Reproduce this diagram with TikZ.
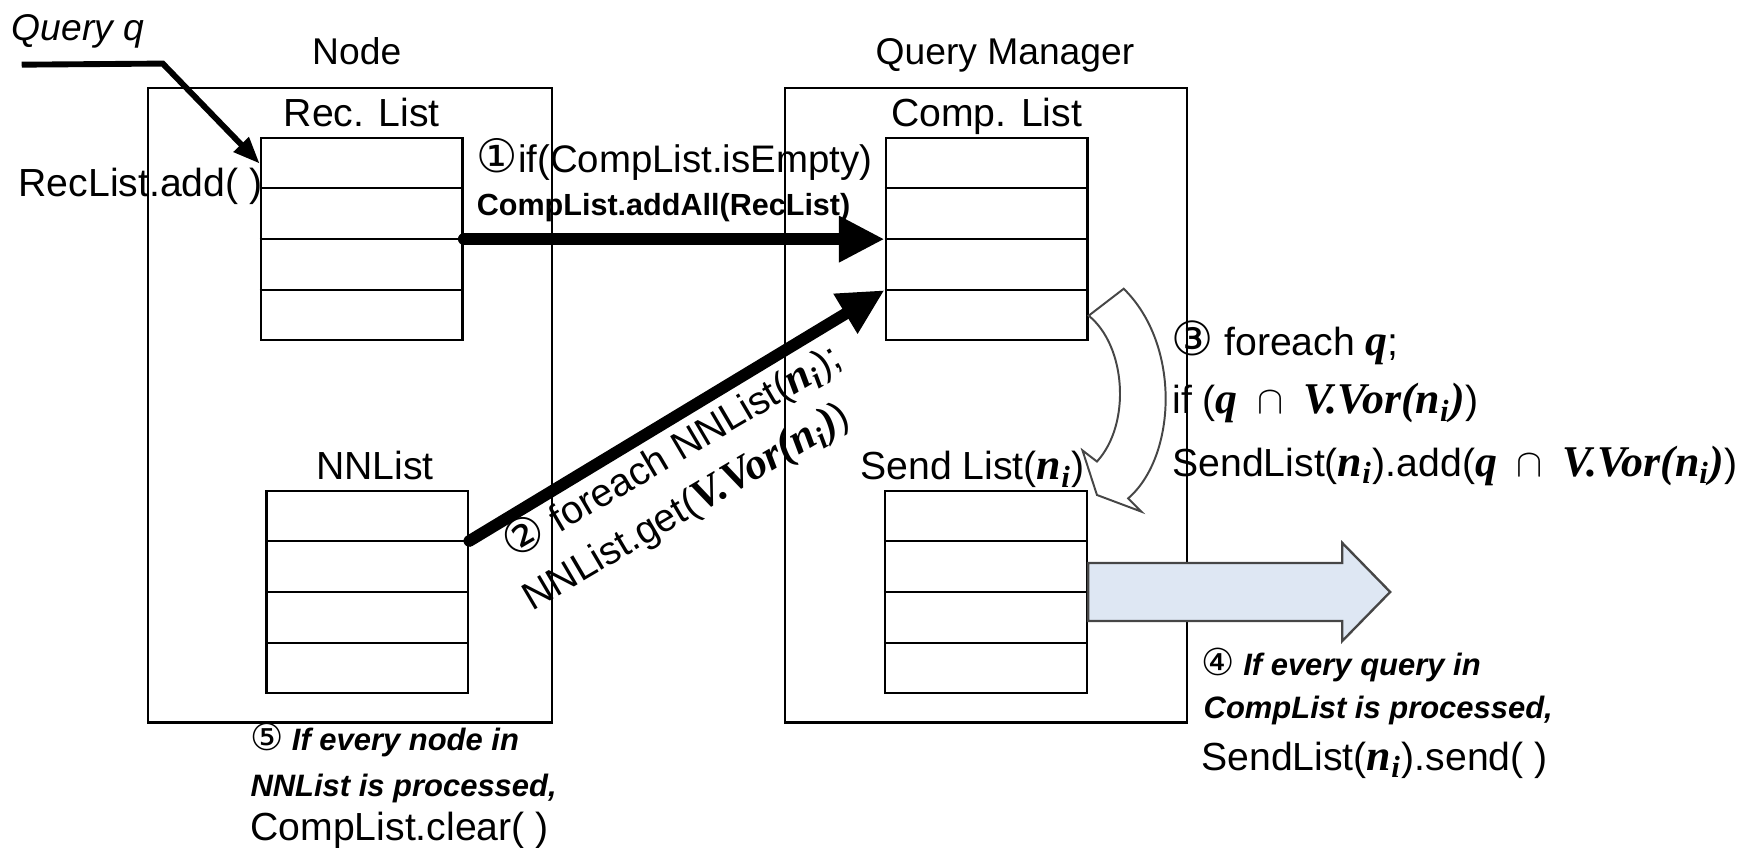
\documentclass[tikz,border=0pt]{standalone}
\usepackage{amsmath}
\usepackage{fontspec}
\setmainfont{Liberation Sans}
\newfontfamily\circfont[Scale=1.2]{DejaVu Sans}
\newfontfamily\vorfont[Scale=1.12]{Liberation Serif}
\usetikzlibrary{arrows.meta}
\usetikzlibrary{positioning}
\usetikzlibrary{calc}

\definecolor{sendblue}{RGB}{222,231,243}
\definecolor{edgegray}{RGB}{70,70,70}

\newcommand{\stepno}[1]{{\normalfont\circfont #1}}
\newcommand{\bi}[1]{{\vorfont\bfseries\itshape #1}}
\newcommand{\nsub}{\bi{n\textsubscript{i}}}
\newcommand{\vorn}{\bi{V.Vor(n\textsubscript{i})}}
\newcommand{\capq}{\bi{q}\enspace$\cap$\enspace\vorn}

\tikzset{
  outerbox/.style={draw, line width=0.6pt, inner sep=0pt, minimum height=56.9mm},
  listbox/.style={draw, line width=0.6pt, inner sep=0pt, minimum width=18.1mm, minimum height=18.1mm},
  boxlabel/.style={inner sep=1.5pt, text depth=0pt, font=\fontsize{9.5}{11}\selectfont},
  listlabel/.style={inner sep=2.5pt, text depth=0pt, font=\fontsize{10}{12}\selectfont},
  steptext/.style={inner sep=0pt, font=\fontsize{10}{12}\selectfont},
  noteit/.style={inner sep=0pt, font=\bfseries\itshape\fontsize{7.9}{9}\selectfont},
  bigarrow/.style={line width=3pt, line cap=round, -{Triangle[length=4.1mm,width=3.9mm]}},
  qarrow/.style={line width=1.5pt, -{Triangle[length=2.4mm,width=1.8mm]}},
  curvearrow/.style={draw=edgegray, fill=white, line width=0.5pt},
  sendarrow/.style={draw=edgegray, fill=sendblue, line width=0.6pt}
}

\begin{document}
\begin{tikzpicture}[x=0.1mm,y=-0.1mm]
  \useasboundingbox (0,0) rectangle (1568,760);

  % the two parts and their titles
  \node[outerbox, minimum width=36.2mm] (nodebox) at (314,363.5) {};
  \node[outerbox, minimum width=36.1mm] (qmbox) at (884.5,363.5) {};
  \node[boxlabel, above=4pt of nodebox, xshift=0.6mm] (nodelbl) {Node};
  \node[boxlabel, above=4pt of qmbox, xshift=1.7mm] (qmlbl) {Query Manager};

  % lists, four rows each
  \node[listbox] (recl) at (324.5,214.5) {};
  \node[listbox] (compl) at (885,214.5) {};
  \node[listbox] (nnl) at (329.5,531) {};
  \node[listbox] (sendl) at (884.5,531) {};
  \foreach \lst in {recl,compl,nnl,sendl}
    \foreach \k in {1,2,3}
      \draw[line width=0.6pt] ($(\lst.north west)!\k/4!(\lst.south west)$) coordinate (\lst-w\k)
        -- ($(\lst.north east)!\k/4!(\lst.south east)$) coordinate (\lst-e\k);

  \node[listlabel, above=0pt of recl] (recllbl) {Rec. List};
  \node[listlabel, above=0pt of compl] (compllbl) {Comp. List};
  \node[listlabel, above=0pt of nnl, xshift=0.7mm] (nnllbl) {NNList};
  \node[listlabel, above=0pt of sendl, xshift=-1.2mm] (sendllbl) {Send List(\nsub)};

  % incoming query
  \node[inner sep=0pt, anchor=base, font=\itshape\fontsize{9.5}{11}\selectfont] (qlbl) at (70,36) {Query q};
  \coordinate (qstart) at (19.5,58);
  \coordinate (qbend) at (146,57);
  \coordinate (qtip) at ($(recl.north west)!0.13!(recl.south west)$);
  \draw[qarrow] (qstart) -- (qbend) -- (qtip);
  \node[steptext, anchor=base west] (addlbl) at (16,176) {RecList.add( )};

  % step 1
  \draw[bigarrow] (recl-e2) -- (compl-w2);
  \node[steptext, anchor=base west, font=\fontsize{9.8}{11}\selectfont] (emptylbl) at (427,155) {\stepno{①}if(CompList.isEmpty)};
  \node[steptext, anchor=base west, font=\bfseries\fontsize{7.8}{9}\selectfont] (addalllbl) at (427,193) {CompList.addAll(RecList)};

  % step 2
  \draw[bigarrow] (nnl-e1) -- (compl-w3);
  \node[steptext, rotate=30.5, anchor=base west] (nnstep) at (460,503) {\stepno{②} foreach NNList(\nsub);};
  \node[steptext, rotate=30.5, anchor=base west] (nnget) at (477,549) {NNList.get(\vorn)};

  % step 3
  \coordinate (ctail) at ($(compl-e3)!0.5!(compl.south east)$);
  \draw[curvearrow] (ctail) .. controls (1010,310) and (1015,380) .. (984,414)
    -- (971,404) -- (984,444) -- (1024,459) -- (1012,447)
    .. controls (1055,410) and (1060,310) .. (1008,259) -- cycle;
  \node[steptext, anchor=base west] (qloop) at (1050,319) {\stepno{③} foreach \bi{q};};
  \node[steptext, anchor=base west] (qif) at (1051,371) {if (\capq)};
  \node[steptext, anchor=base west] (qadd) at (1051,427) {SendList(\nsub).add(\capq)};

  % step 4
  \coordinate (sa) at (sendl.east);
  \draw[sendarrow] (sa) ++(0,-26) -- ++(228,0) -- ++(0,-18) -- ++(43,44)
    -- ++(-43,44) -- ++(0,-18) -- ++(-228,0) -- cycle;
  \node[noteit, anchor=base west] (sendnote1) at (1077,605.5) {\stepno{④} If every query in};
  \node[noteit, anchor=base west] (sendnote2) at (1079,644.5) {CompList is processed,};
  \node[steptext, anchor=base west] (sendnote3) at (1077,690.7) {SendList(\nsub).send( )};

  % step 5
  \node[noteit, anchor=base west] (clrnote1) at (223.6,673.4) {\stepno{⑤} If every node in};
  \node[noteit, anchor=base west] (clrnote2) at (224,714.6) {NNList is processed,};
  \node[steptext, anchor=base west] (clrnote3) at (224,753.5) {CompList.clear( )};
\end{tikzpicture}
\end{document}
